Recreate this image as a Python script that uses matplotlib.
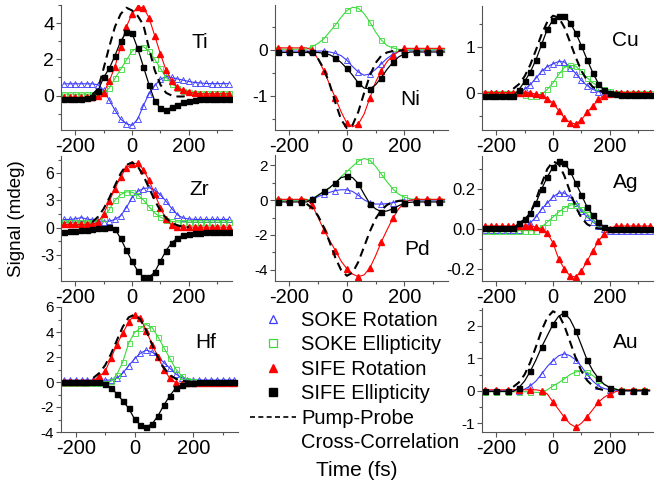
import matplotlib.pyplot as plt
from matplotlib.lines import Line2D
from matplotlib.ticker import MultipleLocator, FormatStrFormatter

plt.rcParams['font.family'] = ['Liberation Sans', 'DejaVu Sans']
plt.rcParams['axes.unicode_minus'] = False

# time grids (fs): measured points and the pump-probe cross-correlation
t = list(range(-240, 341, 20))
tp = list(range(-140, 201, 20))

# Ti
ti_soke_rot = [0.65] * 6 + [0.6, 0.3, -0.25, -0.8, -1.3, -1.55, -1.65, -1.3, -0.55, 0.1, 0.55, 0.9,
                            1.05, 1.0, 0.92, 0.85, 0.78, 0.72, 0.7, 0.67, 0.66, 0.66, 0.66, 0.66]
ti_soke_ell = [0.08] * 7 + [0.15, 0.42, 0.95, 1.45, 1.95, 2.45, 2.65, 2.7, 2.45, 2.0, 1.5, 1.0,
                            0.66, 0.42, 0.28, 0.2, 0.15, 0.12, 0.12, 0.12, 0.12, 0.12, 0.12]
ti_sife_rot = [-0.1] * 6 + [-0.05, 0.15, 0.8, 1.6, 2.7, 3.8, 4.5, 4.9, 4.85, 4.3, 3.3, 2.3, 1.4,
                            0.8, 0.45, 0.3, 0.2, 0.15, 0.1, 0.1, 0.1, 0.1, 0.1, 0.1]
ti_sife_ell = [-0.18, -0.18, -0.18, -0.18, -0.15, -0.1, 0.25, 1.0, 1.5, 2.2, 3.0, 3.5, 3.45, 2.6,
               1.6, 0.6, -0.3, -0.7, -0.78, -0.65, -0.5, -0.38, -0.28, -0.22, -0.2, -0.2, -0.2,
               -0.2, -0.2, -0.2]
ti_xcorr = [0.05, 0.35, 1.5, 2.7, 3.8, 4.5, 4.85, 4.7, 4.4, 3.9, 2.6, 1.4, 0.6, 0.15, 0.0, -0.05,
            -0.05, 0.0]

# Ni
ni_soke_rot = [-0.02] * 9 + [-0.04, -0.07, -0.12, -0.22, -0.36, -0.48, -0.55, -0.52, -0.42, -0.3,
                             -0.18, -0.09, -0.03] + [0.0] * 8
ni_soke_ell = [0.02] * 6 + [0.08, 0.15, 0.25, 0.4, 0.55, 0.72, 0.87, 0.94, 0.92, 0.8, 0.62, 0.4,
                            0.22, 0.1, 0.05, 0.02] + [0.01] * 8
ni_sife_rot = [0.05] * 6 + [0.0, -0.2, -0.45, -0.75, -1.05, -1.35, -1.6, -1.68, -1.62, -1.4, -1.05,
                            -0.7, -0.45, -0.25, -0.12, -0.03] + [0.04] * 8
ni_sife_ell = [-0.05] * 8 + [-0.07, -0.1, -0.17, -0.27, -0.4, -0.55, -0.72, -0.83, -0.85, -0.76,
                             -0.6, -0.42, -0.27, -0.15, -0.08] + [-0.04] * 7
ni_xcorr = [-0.03, -0.08, -0.19, -0.41, -0.74, -1.15, -1.52, -1.71, -1.64, -1.35, -0.94, -0.56,
            -0.28, -0.12, -0.05, -0.02, -0.01, 0.0]

# Cu
cu_soke_rot = [0.0] * 6 + [0.02, 0.08, 0.18, 0.32, 0.47, 0.57, 0.63, 0.68, 0.67, 0.55, 0.42, 0.27,
                           0.16, 0.08, 0.03] + [0.0] * 9
cu_soke_ell = [0.0] * 7 + [-0.04, -0.07, -0.06, -0.03, 0.08, 0.22, 0.4, 0.55, 0.6, 0.58, 0.47,
                           0.33, 0.22, 0.14, 0.08, 0.04] + [0.01] * 7
cu_sife_rot = [0.01] * 8 + [0.0, -0.02, -0.05, -0.12, -0.22, -0.38, -0.54, -0.64, -0.67, -0.58,
                            -0.42, -0.28, -0.14, -0.06, -0.02] + [0.01] * 7
cu_sife_ell = [-0.06] * 6 + [0.07, 0.25, 0.45, 0.72, 1.05, 1.38, 1.58, 1.66, 1.66, 1.52, 1.3, 1.02,
                             0.72, 0.44, 0.2, 0.06, 0.0, -0.03] + [-0.05] * 6
cu_xcorr = [0.09, 0.19, 0.36, 0.61, 0.93, 1.27, 1.54, 1.67, 1.63, 1.42, 1.1, 0.77, 0.48, 0.27,
            0.13, 0.06, 0.02, 0.01]

# Zr
zr_soke_rot = [0.9, 0.9, 0.95, 1.1, 0.95, 0.85, 0.75, 0.65, 0.7, 0.9, 1.3, 2.2, 3.3, 4.0, 4.3, 4.4,
               4.15, 3.6, 2.9, 2.1, 1.4, 1.05, 0.95, 0.9] + [0.9] * 6
zr_soke_ell = [0.6] * 6 + [0.75, 1.1, 2.0, 3.0, 3.65, 3.95, 3.9, 3.6, 3.05, 2.3, 1.6, 1.15, 0.85,
                           0.68, 0.62] + [0.6] * 9
zr_sife_rot = [0.35] * 6 + [0.6, 1.5, 2.9, 4.3, 5.6, 6.6, 7.05, 7.1, 6.4, 5.2, 3.7, 2.2, 0.9, 0.25,
                            0.1] + [0.05] * 9
zr_sife_ell = [-0.45, -0.42, -0.38, -0.32, -0.25, -0.18, -0.1, -0.02, 0.05, -0.15, -1.2, -2.5,
               -3.7, -4.8, -5.45, -5.5, -4.9, -3.7, -2.55, -1.65, -1.15, -0.85, -0.7, -0.62,
               -0.57, -0.54, -0.52, -0.5, -0.5, -0.5]
zr_xcorr = [0.6, 1.18, 2.07, 3.26, 4.65, 5.97, 6.9, 7.19, 6.76, 5.72, 4.37, 3.0, 1.86, 1.04, 0.52,
            0.24, 0.1, 0.04]

# Pd
pd_soke_rot = [0.0] * 6 + [0.05, 0.2, 0.35, 0.45, 0.55, 0.6, 0.6, 0.5, 0.28, 0.02, -0.15, -0.22,
                           -0.23, -0.2, -0.14, -0.08, -0.03] + [0.0] * 7
pd_soke_ell = [0.0] * 6 + [0.08, 0.3, 0.5, 0.7, 1.0, 1.35, 1.65, 1.95, 2.25, 2.4, 2.3, 1.95, 1.5,
                           1.05, 0.65, 0.35, 0.18, 0.08] + [0.03] * 6
pd_sife_rot = [0.05] * 6 + [-0.3, -1.0, -1.7, -2.3, -2.9, -3.5, -3.95, -4.25, -4.4, -4.3, -3.9,
                            -3.2, -2.4, -1.7, -1.05, -0.5, -0.15, 0.0] + [0.05] * 6
pd_sife_ell = [-0.1] * 6 + [0.05, 0.28, 0.5, 0.72, 1.0, 1.3, 1.38, 1.3, 0.95, 0.35, -0.2, -0.5,
                            -0.66, -0.62, -0.5, -0.32, -0.18, -0.12] + [-0.1] * 6
pd_xcorr = [-0.21, -0.46, -0.9, -1.56, -2.41, -3.31, -4.02, -4.35, -4.17, -3.55, -2.68, -1.8,
            -1.07, -0.57, -0.27, -0.11, -0.04, -0.01]

# Ag
ag_soke_rot = [-0.005] * 7 + [0.01, 0.03, 0.06, 0.1, 0.13, 0.16, 0.18, 0.18, 0.16, 0.13, 0.09, 0.06,
                              0.035, 0.015, 0.0] + [-0.01] * 8
ag_soke_ell = [-0.008] * 10 + [0.01, 0.035, 0.06, 0.085, 0.105, 0.12, 0.122, 0.1, 0.075, 0.048,
                               0.025, 0.01] + [0.0] * 8
ag_sife_rot = [0.015] * 9 + [0.01, 0.0, -0.02, -0.07, -0.15, -0.2, -0.235, -0.24, -0.21, -0.16,
                             -0.11, -0.06, -0.025, 0.0] + [0.015] * 7
ag_sife_ell = [0.005] * 6 + [0.03, 0.05, 0.08, 0.13, 0.2, 0.26, 0.31, 0.34, 0.33, 0.29, 0.23, 0.17,
                             0.11, 0.07, 0.035, 0.01] + [0.0] * 8
ag_xcorr = [0.005, 0.015, 0.037, 0.08, 0.146, 0.227, 0.3, 0.338, 0.325, 0.266, 0.186, 0.11, 0.056,
            0.024, 0.009, 0.003, 0.0, 0.0]

# Hf
hf_soke_rot = [0.15] * 9 + [0.3, 0.7, 1.3, 1.85, 2.3, 2.55, 2.4, 2.0, 1.55, 1.1, 0.65, 0.35,
                            0.2] + [0.15] * 8
hf_soke_ell = [-0.08] * 8 + [0.05, 0.6, 1.6, 3.1, 3.95, 4.3, 4.6, 4.35, 3.6, 2.75, 1.9, 1.05, 0.5,
                             0.2, 0.05] + [0.0] * 7
hf_sife_rot = [0.0] * 5 + [0.1, 0.45, 0.85, 1.9, 3.0, 3.9, 4.8, 5.4, 5.1, 4.1, 3.0, 2.0, 1.0, 0.3,
                           -0.05, -0.12, -0.08] + [-0.05] * 8
hf_sife_ell = [-0.02] * 7 + [-0.15, -0.45, -0.95, -1.5, -2.1, -2.95, -3.45, -3.58, -3.35, -2.7,
                             -1.85, -1.1, -0.5, -0.2, -0.1, -0.05] + [-0.03] * 7
hf_xcorr = [0.33, 0.71, 1.33, 2.24, 3.33, 4.41, 5.17, 5.39, 4.99, 4.1, 2.99, 1.94, 1.11, 0.57,
            0.26, 0.1, 0.04, 0.01]

# Au
au_soke_rot = [0.0] * 7 + [0.05, 0.15, 0.3, 0.52, 0.75, 0.93, 1.08, 1.14, 1.08, 0.95, 0.75, 0.5,
                           0.3, 0.15, 0.07, 0.03] + [0.0] * 7
au_soke_ell = [-0.03] * 9 + [-0.05, -0.05, 0.03, 0.15, 0.25, 0.37, 0.5, 0.58, 0.6, 0.57, 0.47,
                             0.33, 0.2, 0.1, 0.05] + [0.03] * 6
au_sife_rot = [0.03] * 10 + [0.0, -0.1, -0.35, -0.58, -0.82, -1.02, -1.12, -1.0, -0.8, -0.58,
                             -0.35, -0.2, -0.1, -0.03] + [0.03] * 6
au_sife_ell = [-0.02] * 6 + [0.1, 0.3, 0.6, 0.95, 1.35, 1.7, 2.05, 2.3, 2.4, 2.2, 1.85, 1.4, 0.95,
                             0.62, 0.38, 0.2, 0.1, 0.05] + [0.0] * 6
au_xcorr = [0.12, 0.26, 0.5, 0.88, 1.36, 1.86, 2.26, 2.45, 2.35, 2.0, 1.51, 1.01, 0.61, 0.32,
            0.15, 0.06, 0.02, 0.0]

blue = '#3a3aff'
green = '#3ada3a'
red = '#ff0000'

W, H = 663, 482
fig = plt.figure(figsize=(W / 100, H / 100), dpi=100)


def add_panel(px, name, ylim, major, fmt, label_pos, ysize, series, xcorr, every=1):
    # px = (left, top, right, bottom) in pixels
    left, top, right, bottom = px
    ax = fig.add_axes([left / W, 1 - bottom / H, (right - left) / W, (bottom - top) / H])
    srot, sell, frot, fell = series
    ax.plot(t, srot, color=blue, lw=0.8, marker='^', ms=4, mfc='none', mec=blue, mew=0.6,
            markevery=every)
    ax.plot(t, sell, color=green, lw=0.8, marker='s', ms=3.6, mfc='none', mec=green, mew=0.6,
            markevery=every)
    ax.plot(t, frot, color=red, lw=0.8, marker='^', ms=4, mfc=red, mec=red, markevery=every)
    ax.plot(t, fell, color='black', lw=0.9, marker='s', ms=3.6, mfc='black', mec='black',
            markevery=every)
    ax.plot(tp, xcorr, color='black', lw=1.5, ls=(0, (4, 2.5)))
    ax.set_xlim(-250, 352)
    ax.set_ylim(*ylim)
    ax.xaxis.set_major_locator(MultipleLocator(200))
    ax.xaxis.set_minor_locator(MultipleLocator(100))
    ax.yaxis.set_major_locator(MultipleLocator(major))
    ax.yaxis.set_minor_locator(MultipleLocator(major / 2))
    ax.yaxis.set_major_formatter(FormatStrFormatter(fmt))
    for side in ['top', 'right']:
        ax.spines[side].set_visible(False)
    for side in ['left', 'bottom']:
        ax.spines[side].set_color('#555555')
        ax.spines[side].set_linewidth(0.8)
    ax.tick_params(which='both', direction='out', color='#555555', width=0.8)
    ax.tick_params(which='major', length=3.5)
    ax.tick_params(which='minor', length=2)
    ax.tick_params(axis='x', labelsize=14.5, pad=1.5)
    ax.tick_params(axis='y', labelsize=ysize, pad=1.5)
    ax.text(label_pos[0], label_pos[1], name, transform=ax.transAxes, fontsize=15,
            ha='center', va='center')
    return ax


add_panel((61, 5, 232, 130), 'Ti', (-1.9, 5.0), 2, '%g', (0.81, 0.70), 14,
          (ti_soke_rot, ti_soke_ell, ti_sife_rot, ti_sife_ell), ti_xcorr)
add_panel((275, 5, 448, 130), 'Ni', (-1.75, 0.99), 1, '%g', (0.78, 0.24), 12.5,
          (ni_soke_rot, ni_soke_ell, ni_sife_rot, ni_sife_ell), ni_xcorr, every=2)
add_panel((482, 6, 653, 130), 'Cu', (-0.8, 1.88), 1, '%g', (0.84, 0.72), 12.5,
          (cu_soke_rot, cu_soke_ell, cu_sife_rot, cu_sife_ell), cu_xcorr)
add_panel((61, 156, 232, 281), 'Zr', (-5.9, 7.9), 3, '%g', (0.81, 0.73), 11.5,
          (zr_soke_rot, zr_soke_ell, zr_sife_rot, zr_sife_ell), zr_xcorr)
add_panel((275, 155, 448, 281), 'Pd', (-4.65, 2.6), 2, '%g', (0.82, 0.25), 11,
          (pd_soke_rot, pd_soke_ell, pd_sife_rot, pd_sife_ell), pd_xcorr, every=2)
add_panel((482, 156, 653, 281), 'Ag', (-0.26, 0.365), 0.2, '%.1f', (0.84, 0.79), 12,
          (ag_soke_rot, ag_soke_ell, ag_sife_rot, ag_sife_ell), ag_xcorr)
add_panel((61, 307, 238, 432), 'Hf', (-4.0, 6.0), 2, '%g', (0.82, 0.72), 11,
          (hf_soke_rot, hf_soke_ell, hf_sife_rot, hf_sife_ell), hf_xcorr)
add_panel((482, 308, 653, 432), 'Au', (-1.27, 2.55), 1, '%g', (0.84, 0.72), 11,
          (au_soke_rot, au_soke_ell, au_sife_rot, au_sife_ell), au_xcorr, every=2)

handles = [
    Line2D([], [], ls='none', marker='^', ms=4, mfc='none', mec=blue, mew=0.9),
    Line2D([], [], ls='none', marker='s', ms=3.6, mfc='none', mec=green, mew=0.9),
    Line2D([], [], ls='none', marker='^', ms=4, mfc=red, mec=red),
    Line2D([], [], ls='none', marker='s', ms=3.6, mfc='black', mec='black'),
    Line2D([], [], color='black', lw=1.2, ls=(0, (3, 2))),
    Line2D([], [], ls='none'),
]
labels = ['SOKE Rotation', 'SOKE Ellipticity', 'SIFE Rotation', 'SIFE Ellipticity',
          'Pump-Probe', 'Cross-Correlation']
fig.legend(handles, labels, loc='upper left', bbox_to_anchor=(250 / W, 1 - 311 / H),
           frameon=False, fontsize=14.5, handlelength=2.3, handletextpad=0.25,
           labelspacing=0.27, borderpad=0, borderaxespad=0, markerscale=1.6)

fig.text(357 / W, 1 - 470 / H, 'Time (fs)', fontsize=15, ha='center', va='center')
fig.text(17 / W, 1 - 219 / H, 'Signal (mdeg)', fontsize=13.5, rotation=90,
         ha='center', va='center')

fig.savefig('out.png', dpi=100)
